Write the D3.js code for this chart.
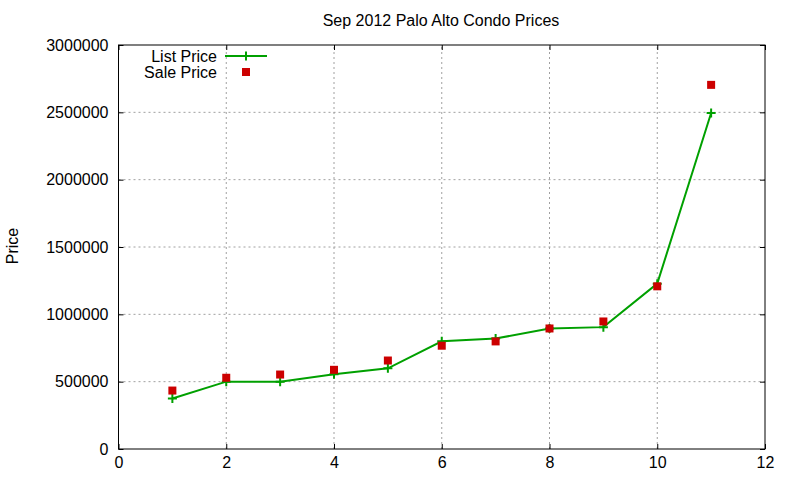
<!DOCTYPE html>
<html>
<head>
<meta charset="utf-8">
<script src="https://cdn.jsdelivr.net/npm/d3@7"></script>
<style>
  body { margin: 0; background: #fff; }
  text { font-family: "Liberation Sans", Arial, sans-serif; font-size: 16px; fill: #000; }
  .grid line { stroke: #a0a0a0; stroke-dasharray: 2,3; stroke-width: 1; }
</style>
</head>
<body>
<svg id="chart" width="800" height="480"></svg>
<script>
// data
var listingIndex = [1, 2, 3, 4, 5, 6, 7, 8, 9, 10, 11];
var listPrice = [375000, 500000, 500000, 555000, 599000, 800000, 820000, 895000, 905000, 1228000, 2495000];
var salePrice = [434000, 529000, 553000, 588000, 657000, 767000, 799000, 895000, 947000, 1208000, 2704000];
var xTicks = [0, 2, 4, 6, 8, 10, 12];
var yTicks = [0, 500000, 1000000, 1500000, 2000000, 2500000, 3000000];

var svg = d3.select("#chart");
var plotLeft = 118.5, plotRight = 765, plotTop = 45, plotBottom = 449;

var x = d3.scaleLinear().domain([0, 12]).range([plotLeft, plotRight]);
var y = d3.scaleLinear().domain([0, 3000000]).range([plotBottom, plotTop]);

// grid
var grid = svg.append("g").attr("class", "grid");
grid.selectAll("line.v")
  .data(xTicks.slice(1, -1))
  .enter().append("line")
  .attr("x1", function(d) { return x(d); })
  .attr("x2", function(d) { return x(d); })
  .attr("y1", plotBottom)
  .attr("y2", plotTop);
grid.selectAll("line.h")
  .data(yTicks.slice(1, -1))
  .enter().append("line")
  .attr("x1", plotLeft)
  .attr("x2", plotRight)
  .attr("y1", function(d) { return y(d); })
  .attr("y2", function(d) { return y(d); });

// axes, gnuplot style: inward ticks on all four sides
var tickLen = 5;
function styleAxis(g) {
  g.select(".domain").remove();
  g.selectAll(".tick line").attr("stroke", "#000");
  g.selectAll("text").style("font-size", "16px").attr("fill", "#000");
}
svg.append("g")
  .attr("transform", "translate(0," + plotBottom + ")")
  .call(d3.axisBottom(x).tickValues(xTicks).tickSizeInner(-tickLen).tickPadding(8).tickFormat(d3.format("d")))
  .call(styleAxis);
svg.append("g")
  .attr("transform", "translate(0," + plotTop + ")")
  .call(d3.axisTop(x).tickValues(xTicks).tickSizeInner(-tickLen).tickFormat(""))
  .call(styleAxis);
svg.append("g")
  .attr("transform", "translate(" + plotLeft + ",0)")
  .call(d3.axisLeft(y).tickValues(yTicks).tickSizeInner(-tickLen).tickPadding(10).tickFormat(d3.format("d")))
  .call(styleAxis);
svg.append("g")
  .attr("transform", "translate(" + plotRight + ",0)")
  .call(d3.axisRight(y).tickValues(yTicks).tickSizeInner(-tickLen).tickFormat(""))
  .call(styleAxis);

svg.append("rect")
  .attr("x", plotLeft).attr("y", plotTop)
  .attr("width", plotRight - plotLeft).attr("height", plotBottom - plotTop)
  .attr("fill", "none").attr("stroke", "#000").attr("stroke-width", 1);

// list price line with + markers
var green = "#00a000", red = "#cc0000";
var line = d3.line()
  .x(function(d, i) { return x(listingIndex[i]); })
  .y(function(d) { return y(d); });
svg.append("path")
  .datum(listPrice)
  .attr("d", line)
  .attr("fill", "none")
  .attr("stroke", green)
  .attr("stroke-width", 2);

function plusPath(cx, cy, s) {
  return "M" + (cx - s) + "," + cy + "H" + (cx + s) + "M" + cx + "," + (cy - s) + "V" + (cy + s);
}
svg.selectAll("path.plus")
  .data(listPrice)
  .enter().append("path")
  .attr("class", "plus")
  .attr("d", function(d, i) { return plusPath(x(listingIndex[i]), y(d), 4.5); })
  .attr("stroke", green)
  .attr("stroke-width", 2);

// sale price squares
svg.selectAll("rect.sale")
  .data(salePrice)
  .enter().append("rect")
  .attr("class", "sale")
  .attr("x", function(d, i) { return x(listingIndex[i]) - 4; })
  .attr("y", function(d) { return y(d) - 4; })
  .attr("width", 8)
  .attr("height", 8)
  .attr("fill", red);

// legend
var legend = svg.append("g");
legend.append("text")
  .attr("x", 217).attr("y", 62)
  .attr("text-anchor", "end")
  .text("List Price");
legend.append("line")
  .attr("x1", 225).attr("x2", 267)
  .attr("y1", 56).attr("y2", 56)
  .attr("stroke", green).attr("stroke-width", 2);
legend.append("path")
  .attr("d", plusPath(246, 56, 4.5))
  .attr("stroke", green).attr("stroke-width", 2);
legend.append("text")
  .attr("x", 217).attr("y", 78)
  .attr("text-anchor", "end")
  .text("Sale Price");
legend.append("rect")
  .attr("x", 242).attr("y", 68)
  .attr("width", 8).attr("height", 8)
  .attr("fill", red);

// title and axis label
svg.append("text")
  .attr("x", 441).attr("y", 26)
  .attr("text-anchor", "middle")
  .text("Sep 2012 Palo Alto Condo Prices");
svg.append("text")
  .attr("transform", "translate(18,246) rotate(-90)")
  .attr("text-anchor", "middle")
  .text("Price");
</script>
</body>
</html>
